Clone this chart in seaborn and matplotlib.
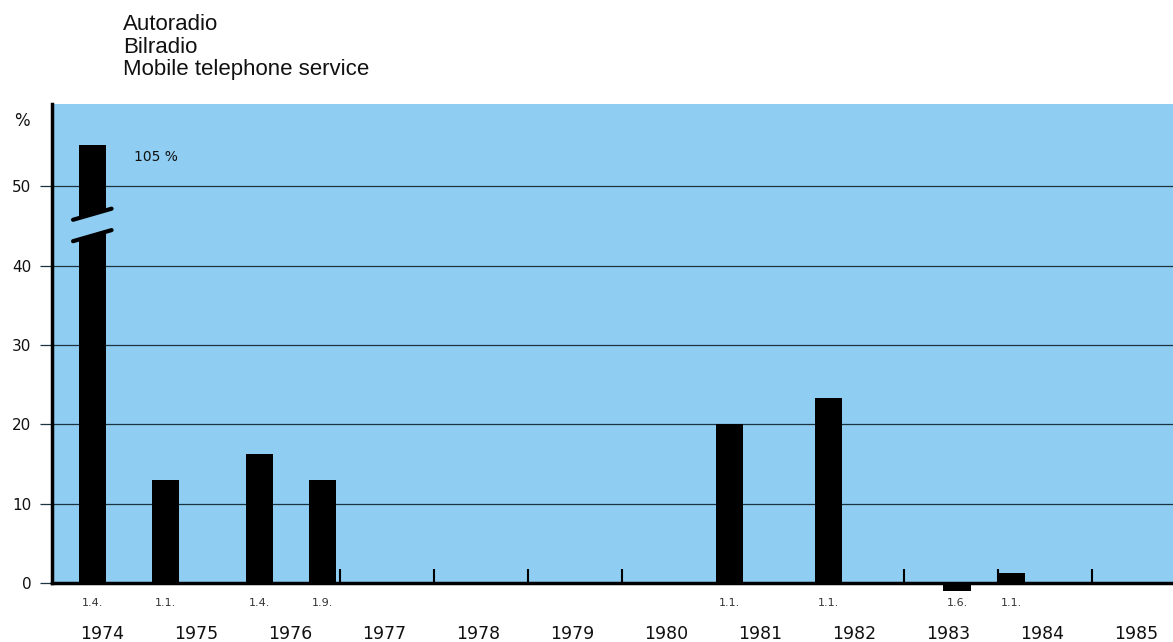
import numpy as np
import matplotlib
matplotlib.use("Agg")
import matplotlib.pyplot as plt
import seaborn as sns

# bar start dates (decimal years) and growth in %
dates = ["1.4.", "1.1.", "1.4.", "1.9.", "1.1.", "1.1.", "1.6.", "1.1."]
starts = [1974.22, 1975.0, 1976.0, 1976.67, 1981.0, 1982.05, 1983.42, 1984.0]
growth = [105, 13, 16.3, 13, 20, 23.3, -1.0, 1.3]
years = list(range(1974, 1986))
year_ticks = [1977, 1978, 1979, 1980, 1983, 1984, 1985]
yticks = [0, 10, 20, 30, 40, 50]

bar_w = 0.29
cap = 55.2  # where the broken bar is cut off
blue = "#8fcdf2"

sns.set_theme(style="white")
plt.rcParams["font.family"] = ["DejaVu Sans"]

fig = plt.figure(figsize=(11.73, 6.42), dpi=100)
ax = fig.add_axes([52 / 1173, 1 - 583 / 642, 1 - 52 / 1173, 479 / 642])
ax.set_facecolor(blue)

centers = [s + bar_w / 2 for s in starts]
shown = [min(v, cap) for v in growth]
min_gap = np.min(np.diff(sorted(centers)))
sns.barplot(x=centers, y=shown, native_scale=True, width=bar_w / min_gap,
            color="black", saturation=1, errorbar=None, linewidth=0, ax=ax)
for p in ax.patches:
    p.set_clip_on(False)
    p.set_zorder(3)
    p.set_edgecolor("black")

ax.set_xlim(1974 - 6 / 94, 1974 + 1115 / 94)
ax.set_ylim(0, 60.4)

# axis break on the first bar
x0, x1 = starts[0] - 0.06, starts[0] + bar_w + 0.06
ax.fill([x0, x1, x1, x0], [43.1, 44.5, 47.2, 45.8], color=blue, zorder=4, clip_on=False)
ax.plot([x0, x1], [45.8, 47.2], color="black", lw=3, zorder=5, solid_capstyle="round")
ax.plot([x0, x1], [43.1, 44.5], color="black", lw=3, zorder=5, solid_capstyle="round")
ax.text(starts[0] + bar_w + 0.3, 53.2, "105 %", fontsize=10, color="#111111", zorder=5)

# horizontal grid
ax.set_yticks(yticks)
ax.set_yticklabels([str(t) for t in yticks], fontsize=11, color="#111111")
ax.yaxis.grid(True, color="#1c3440", lw=0.9)
ax.set_axisbelow(True)
ax.tick_params(axis="y", left=True, length=9, width=0.9, color="#1c3440", pad=6)
ax.text(-0.027, 0.965, "%", transform=ax.transAxes, fontsize=12, color="#111111",
        ha="center", va="center")

# year boundary ticks and year labels
ax.set_xticks(year_ticks)
ax.set_xticklabels([])
ax.tick_params(axis="x", which="major", bottom=True, direction="in", length=10,
               width=1.5, color="black")
ax.set_xticks([y + 0.47 for y in years], minor=True)
ax.set_xticklabels([str(y) for y in years], minor=True, fontsize=12.5, color="#111111")
ax.tick_params(axis="x", which="minor", bottom=True, length=0, pad=30)

for s, d in zip(starts, dates):
    ax.text(s + bar_w / 2, -1.95, d, fontsize=8, color="#333333",
            ha="center", va="top")

for side in ["top", "right"]:
    ax.spines[side].set_visible(False)
ax.spines["left"].set_color("black")
ax.spines["left"].set_linewidth(2.5)
ax.spines["bottom"].set_color("black")
ax.spines["bottom"].set_linewidth(2.5)

fig.text(123 / 1173, 1 - 14 / 642, "Autoradio\nBilradio\nMobile telephone service",
         fontsize=16, family=["Liberation Sans", "DejaVu Sans"], va="top",
         linespacing=1.1, color="#111111")

fig.savefig("out.png", dpi=100)
